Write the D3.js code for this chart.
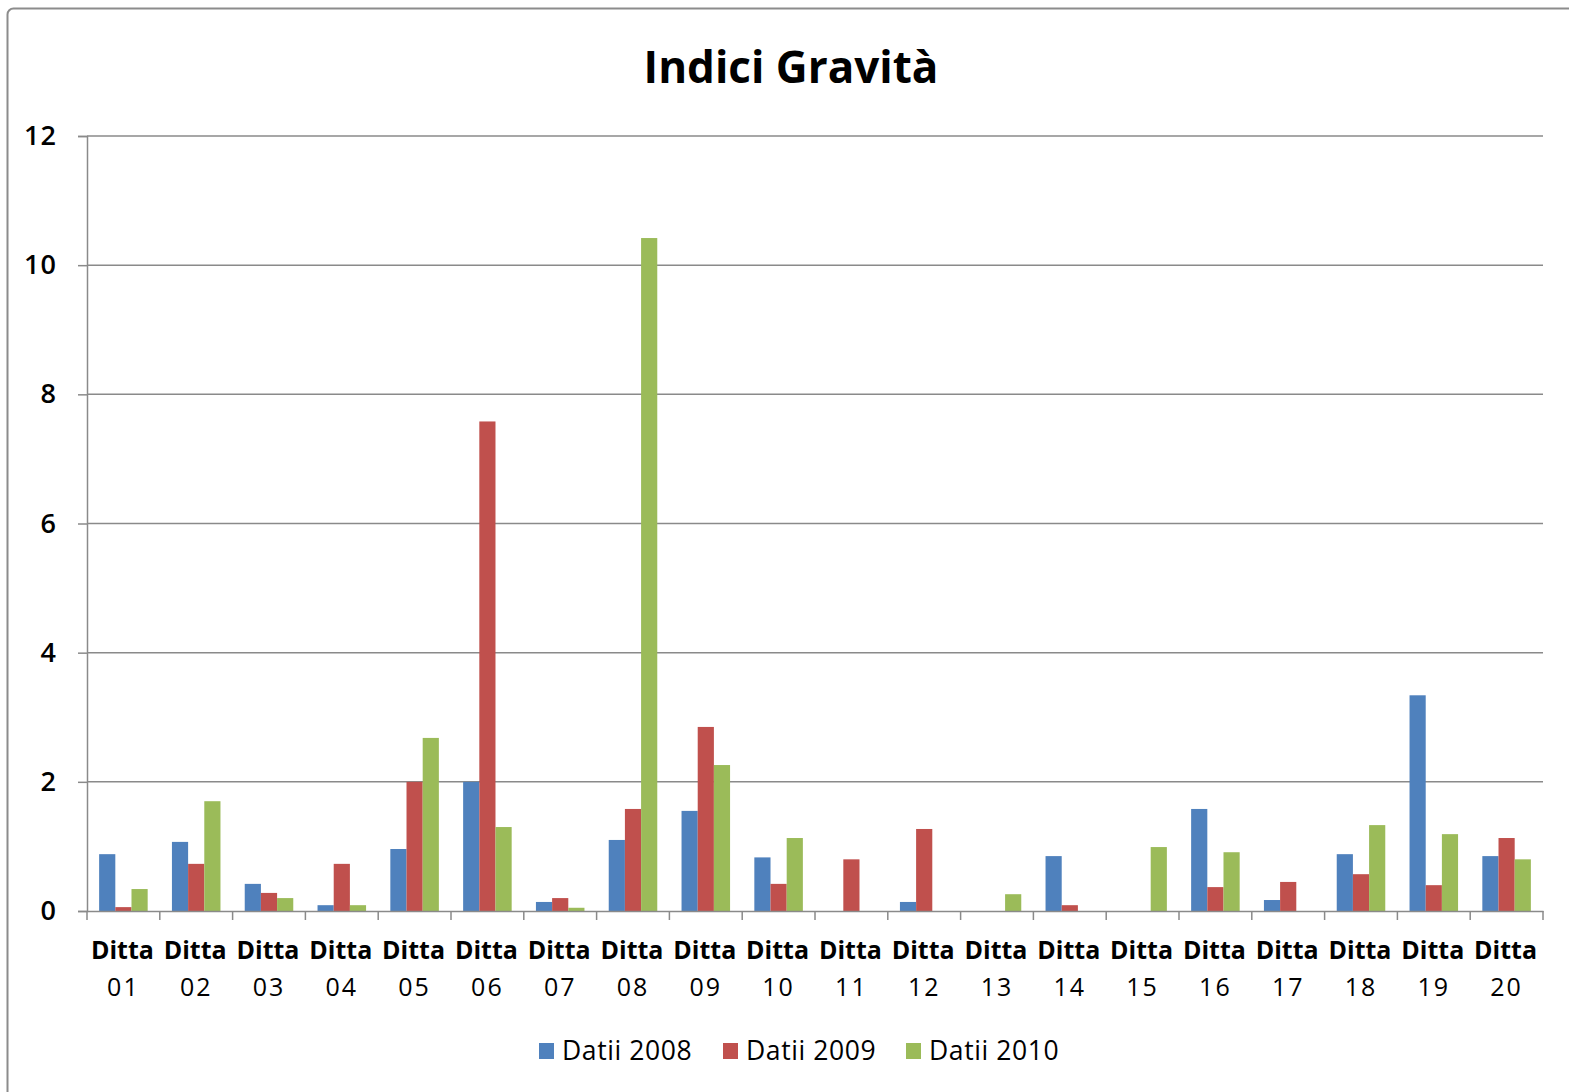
<!DOCTYPE html>
<html>
<head>
<meta charset="utf-8">
<script src="https://cdn.jsdelivr.net/npm/d3@7"></script>
<style>
  html, body { margin: 0; padding: 0; background: #ffffff; }
  svg { display: block; }
  text { font-family: "Open Sans", Lato, sans-serif; fill: #000; }
</style>
</head>
<body>
<svg id="chart" width="1569" height="1092"></svg>
<script>
// Categories and series
const categories = ["01","02","03","04","05","06","07","08","09","10",
                    "11","12","13","14","15","16","17","18","19","20"];
const seriesNames = ["Datii 2008", "Datii 2009", "Datii 2010"];
const datii2008 = [0.88, 1.07, 0.42, 0.09, 0.96, 2.00, 0.14, 1.10, 1.55, 0.83,
                   0.00, 0.14, 0.00, 0.85, 0.00, 1.58, 0.17, 0.88, 3.34, 0.85];
const datii2009 = [0.06, 0.73, 0.28, 0.73, 2.00, 7.58, 0.20, 1.58, 2.85, 0.42,
                   0.80, 1.27, 0.00, 0.09, 0.00, 0.37, 0.45, 0.57, 0.40, 1.13];
const datii2010 = [0.34, 1.70, 0.20, 0.09, 2.68, 1.30, 0.05, 10.42, 2.26, 1.13,
                   0.00, 0.00, 0.26, 0.00, 0.99, 0.91, 0.00, 1.33, 1.19, 0.80];
const yTicks = [0, 2, 4, 6, 8, 10, 12];
const colors = ["#4F81BD", "#C0504D", "#9BBB59"];

const series = [datii2008, datii2009, datii2010];

const svg = d3.select("#chart");
const plot = { left: 87, right: 1543, top: 136, bottom: 911 };

// Chart frame
svg.append("rect")
  .attr("x", 7.5).attr("y", 8.5)
  .attr("width", 1580).attr("height", 1100)
  .attr("rx", 6)
  .attr("fill", "#ffffff")
  .attr("stroke", "#8c8c8c")
  .attr("stroke-width", 2);

// Title
svg.append("text")
  .attr("x", 791).attr("y", 83)
  .attr("text-anchor", "middle")
  .style("font-size", "44px")
  .style("font-weight", "bold")
  .text("Indici Gravità");

const x = d3.scaleBand()
  .domain(categories)
  .range([plot.left, plot.right])
  .paddingInner(0).paddingOuter(0);

const y = d3.scaleLinear()
  .domain([0, 12])
  .range([plot.bottom, plot.top]);

// Horizontal gridlines
svg.append("g")
  .selectAll("line")
  .data(yTicks.filter(t => t > 0))
  .join("line")
  .attr("x1", plot.left).attr("x2", plot.right)
  .attr("y1", d => y(d)).attr("y2", d => y(d))
  .attr("stroke", "#8a8a8a")
  .attr("stroke-width", 1.5);

// Y axis
const yAxis = svg.append("g")
  .attr("transform", `translate(${plot.left},0)`)
  .call(d3.axisLeft(y).tickValues(yTicks).tickSize(9).tickPadding(21).tickFormat(d3.format("d")));
yAxis.select(".domain").attr("stroke", "#8a8a8a").attr("stroke-width", 1.5);
yAxis.selectAll(".tick line").attr("stroke", "#8a8a8a").attr("stroke-width", 1.5);
yAxis.selectAll(".tick text")
  .style("font-size", "27px")
  .style("font-weight", "600")
  .style("letter-spacing", "1px")
  .style("font-family", "'Open Sans', Lato, sans-serif")
  .attr("fill", "#000");

// Bars: band split into groups of three with a 150% gap between groups
const groupWidth = x.bandwidth() * 3 / 4.5;
const inner = d3.scaleBand()
  .domain(d3.range(series.length))
  .range([0, groupWidth]);
const groupOffset = (x.bandwidth() - groupWidth) / 2;

series.forEach((vals, si) => {
  svg.append("g")
    .selectAll("rect")
    .data(vals.map((v, i) => ({ cat: categories[i], v })))
    .join("rect")
    .attr("x", d => x(d.cat) + groupOffset + inner(si))
    .attr("width", inner.bandwidth())
    .attr("y", d => y(d.v))
    .attr("height", d => y(0) - y(d.v))
    .attr("fill", colors[si]);
});

// X axis
const xAxis = svg.append("g")
  .attr("transform", `translate(0,${plot.bottom})`)
  .call(d3.axisBottom(x).tickSize(0).tickFormat(""));
xAxis.select(".domain").attr("stroke", "#8a8a8a").attr("stroke-width", 1.5);

// Category boundary ticks
svg.append("g")
  .selectAll("line")
  .data(d3.range(categories.length + 1))
  .join("line")
  .attr("x1", i => plot.left + i * x.bandwidth())
  .attr("x2", i => plot.left + i * x.bandwidth())
  .attr("y1", plot.bottom).attr("y2", plot.bottom + 9)
  .attr("stroke", "#8a8a8a")
  .attr("stroke-width", 1.5);

// Two-line category labels
const labels = svg.append("g")
  .selectAll("text")
  .data(categories)
  .join("text")
  .attr("text-anchor", "middle")
  .attr("x", d => x(d) + x.bandwidth() / 2)
  .style("font-size", "25px");
labels.append("tspan")
  .attr("x", d => x(d) + x.bandwidth() / 2 - 1)
  .attr("y", 959)
  .style("font-weight", "bold")
  .text("Ditta");
labels.append("tspan")
  .attr("x", d => x(d) + x.bandwidth() / 2)
  .attr("y", 996)
  .style("letter-spacing", "2px")
  .style("font-weight", "500")
  .text(d => d);

// Legend
const legendX = [539, 723, 906];
const legend = svg.append("g")
  .selectAll("g")
  .data(seriesNames)
  .join("g")
  .attr("transform", (d, i) => `translate(${legendX[i]},1043)`);
legend.append("rect")
  .attr("width", 15).attr("height", 16)
  .attr("fill", (d, i) => colors[i]);
legend.append("text")
  .attr("x", 23).attr("y", 17)
  .style("font-size", "26.5px")
  .style("font-weight", "500")
  .style("letter-spacing", "0.6px")
  .text(d => d);
</script>
</body>
</html>
